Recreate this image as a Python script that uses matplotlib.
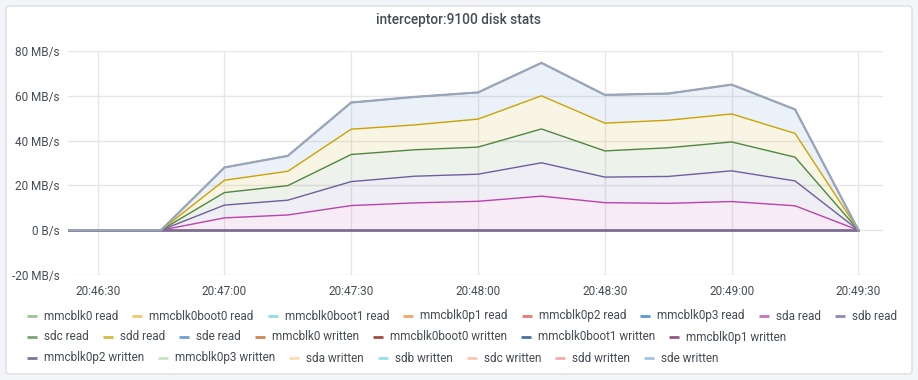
import numpy as np
import matplotlib
matplotlib.use("Agg")
import matplotlib.pyplot as plt
from matplotlib.patches import FancyBboxPatch
from matplotlib.ticker import FuncFormatter, FixedLocator

plt.rcParams['font.family'] = ['Roboto', 'DejaVu Sans']

# sample times (15 s steps)
times = ["20:46:15", "20:46:30", "20:46:45", "20:47:00", "20:47:15", "20:47:30", "20:47:45",
         "20:48:00", "20:48:15", "20:48:30", "20:48:45", "20:49:00", "20:49:15", "20:49:30"]

# MB/s
sda_read = [0, 0, 0, 5.5, 6.8, 11.0, 12.2, 12.9, 15.2, 12.3, 12.0, 12.8, 10.9, 0]
sdb_read = [0, 0, 0, 5.7, 6.6, 10.7, 11.9, 12.1, 14.9, 11.4, 12.0, 13.7, 11.1, 0]
sdc_read = [0, 0, 0, 5.6, 6.5, 12.1, 11.8, 12.1, 15.1, 11.7, 12.8, 12.9, 10.6, 0]
sdd_read = [0, 0, 0, 5.5, 6.4, 11.3, 11.1, 12.5, 14.8, 12.4, 12.3, 12.5, 10.6, 0]
sde_read = [0, 0, 0, 5.7, 6.9, 11.9, 12.5, 11.9, 14.7, 12.6, 11.9, 13.1, 10.7, 0]
idle = [0.0] * len(times)  # every other device stays at zero

names = ["mmcblk0 read", "mmcblk0boot0 read", "mmcblk0boot1 read", "mmcblk0p1 read",
         "mmcblk0p2 read", "mmcblk0p3 read", "sda read", "sdb read", "sdc read", "sdd read",
         "sde read", "mmcblk0 written", "mmcblk0boot0 written", "mmcblk0boot1 written",
         "mmcblk0p1 written", "mmcblk0p2 written", "mmcblk0p3 written", "sda written",
         "sdb written", "sdc written", "sdd written", "sde written"]
values = [idle] * 6 + [sda_read, sdb_read, sdc_read, sdd_read, sde_read] + [idle] * 11

colors = ["#7EB26D", "#EAB839", "#6ED0E0", "#EF843C", "#E24D42", "#1F78C1", "#BA43A9",
          "#705DA0", "#508642", "#CCA300", "#447EBF", "#C15C17", "#890F02", "#0A437C",
          "#6D1F62", "#584477", "#B7DBAB", "#F4D598", "#70DBED", "#F9BA8F", "#F29191",
          "#82B5D8"]

tick_labels = ["20:46:30", "20:47:00", "20:47:30", "20:48:00", "20:48:30", "20:49:00", "20:49:30"]
legend_rows = [8, 7, 7]


def to_sec(s):
    h, m, sec = map(int, s.split(":"))
    return h * 3600 + m * 60 + sec


t = np.array([to_sec(s) for s in times], dtype=float)
data = np.array(values, dtype=float)
stack = np.cumsum(data, axis=0)

txt = "#464c54"
fs = 8.5
fig = plt.figure(figsize=(9.18, 3.8), dpi=100)
fig.patch.set_facecolor("#f4f5f8")

# full-figure overlay in pixel coords for the panel and legend
ov = fig.add_axes([0, 0, 1, 1])
ov.set_xlim(0, 918)
ov.set_ylim(380, 0)
ov.axis("off")
ov.add_patch(FancyBboxPatch((6, 6), 906, 368, boxstyle="round,pad=0,rounding_size=3",
                            fc="white", ec="#dcdee2", lw=1))
ov.text(459, 20, "interceptor:9100 disk stats", ha="center", va="center",
        fontsize=9.8, fontweight="medium", color=txt)

ax = fig.add_axes([68 / 918, 1 - 275 / 380, 815 / 918, 224 / 380])
ax.set_facecolor("none")

prev = np.zeros(len(t))
for i in range(len(names)):
    top = stack[i]
    if data[i].max() > 0:
        ax.fill_between(t, prev, top, color=colors[i], alpha=0.1, lw=0)
        ax.plot(t, top, color=colors[i], lw=1.0)
    prev = top

# zero-valued series pile up on the baseline and on the stack total
ax.plot(t, stack[5], color="#7d6e91", lw=2.0)
ax.plot(t, stack[-1], color="#9aa5b8", lw=1.6)

start = to_sec("20:47:00")
ax.set_xlim(start - 37.0, to_sec("20:49:30") + 5.8)
ax.set_ylim(-20, 80)
ax.xaxis.set_major_locator(FixedLocator([to_sec(s) for s in tick_labels]))
ax.xaxis.set_major_formatter(FuncFormatter(
    lambda v, p: "%02d:%02d:%02d" % (int(v) // 3600, int(v) % 3600 // 60, int(v) % 60)))
ax.set_yticks([-20, 0, 20, 40, 60, 80])
ax.yaxis.set_major_formatter(FuncFormatter(lambda v, p: "0 B/s" if v == 0 else "%d MB/s" % v))
ax.grid(True, color="#e6e6e6", lw=1)
ax.set_axisbelow(True)
for s in ax.spines.values():
    s.set_visible(False)
ax.tick_params(length=0, labelsize=fs, labelcolor=txt)
ax.tick_params(axis="y", pad=6)
ax.tick_params(axis="x", pad=7)

# flowing legend like the dashboard's
renderer = fig.canvas.get_renderer()
k = 0
y = 316
for n_row in legend_rows:
    x = 27
    for name, c in zip(names[k:k + n_row], colors[k:k + n_row]):
        ov.plot([x, x + 10], [y, y], color=c, lw=2, solid_capstyle="butt", alpha=0.75)
        lab = ov.text(x + 17, y, name, fontsize=fs, color=txt, va="center", ha="left")
        w = lab.get_window_extent(renderer).width
        x += 17 + w + 14
    k += n_row
    y += 21

fig.savefig("out.png", dpi=100, facecolor=fig.get_facecolor())
